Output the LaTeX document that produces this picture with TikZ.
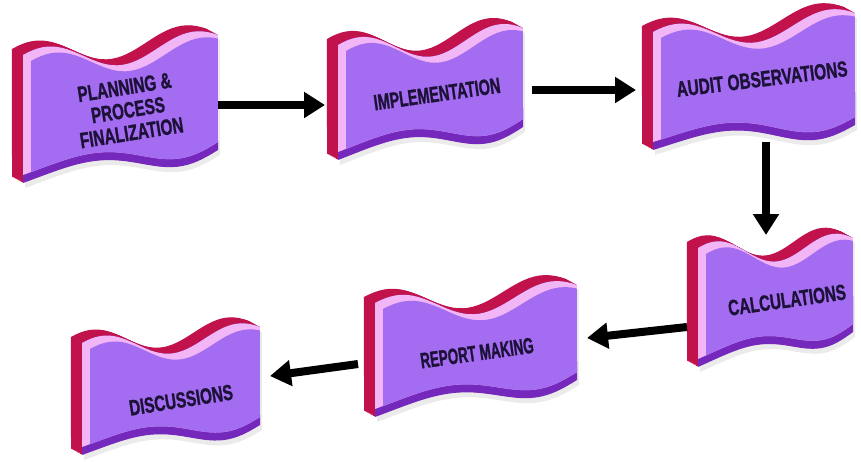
\documentclass[tikz,border=0pt]{standalone}
\usepackage{fontspec}
\setmainfont{Liberation Sans}
\newfontfamily\lblfont{Liberation Sans}[BoldFeatures={FakeBold=1.5}]
\usetikzlibrary{arrows.meta}
\definecolor{facepurple}{HTML}{A46CF0}
\definecolor{bevelpink}{HTML}{F2B6F6}
\definecolor{bottompurple}{HTML}{7428BC}
\definecolor{sidered}{HTML}{C2124C}
\definecolor{textnavy}{HTML}{1C1238}
\tikzset{
  lbl/.style={text=textnavy, font=\lblfont\fontsize{22}{23}\selectfont\bfseries, align=center, inner sep=0pt},
  flow/.style={line width=8pt, -{Triangle[length=21pt,width=25pt]}, black},
}
% #1 x0, #2 y0, #3 W, #4 Hl, #5 Hr, #6 s, #7 A, #8 B
\newcommand\wavyflag[8]{%
  \def\FP{plot[domain=0:1,samples=40,variable=\t] ({#1+\t*#3},{#2-#6*\t+#7*(0.546-cos(deg(2*pi*(\t-0.12)/0.76)))}) -- plot[domain=1:0,samples=40,variable=\t] ({#1+\t*#3},{#2+#4-(#6+#4-#5)*\t-#8*sin(360*\t*(0.6+0.4*\t))}) -- cycle}%
  \fill[black, opacity=0.08, shift={(2,5)}] \FP;
  \foreach \i in {1,...,12}{\fill[sidered, shift={({-0.92*\i},{-0.5*\i})}] \FP;}
  \fill[bottompurple] \FP;
  \begin{scope}
    \clip \FP;
    \fill[bevelpink, shift={(0,-8)}] \FP;
    \clip[shift={(0,-8)}] \FP;
    \fill[facepurple, shift={(8,6)}] \FP;
  \end{scope}
}
\begin{document}
\begin{tikzpicture}[x=1pt,y=-1pt]
\useasboundingbox (0,0) rectangle (861,461);
\fill[white] (0,0) rectangle (861,461);

\wavyflag{23}{55}{195}{128}{115}{20}{13}{10}
\wavyflag{338}{45}{185}{115}{99}{17}{13}{10}
\wavyflag{653}{32}{202}{118}{112}{19}{13}{10}
\wavyflag{698}{248}{155}{119}{94}{10}{12}{9}
\wavyflag{375}{303}{202}{114}{95}{18}{13}{10}
\wavyflag{82}{343}{178}{112}{98}{16}{12}{9}

\node[lbl, rotate=9, xscale=0.69] (n1) at (128,110) {PLANNING \&\\PROCESS\\FINALIZATION};
\node[lbl, rotate=8, xscale=0.655] (n2) at (437,94) {IMPLEMENTATION};
\node[lbl, rotate=7, xscale=0.70] (n3) at (762,79) {AUDIT OBSERVATIONS};
\node[lbl, rotate=8, xscale=0.69] (n4) at (787,300) {CALCULATIONS};
\node[lbl, rotate=8, xscale=0.61] (n5) at (477,353) {REPORT MAKING};
\node[lbl, rotate=9, xscale=0.69] (n6) at (181,400) {DISCUSSIONS};

\coordinate (o1) at (218,105);
\coordinate (i2) at (325,105);
\coordinate (o2) at (532,90);
\coordinate (i3) at (636,90);
\coordinate (o3) at (766,142);
\coordinate (i4) at (766,235);
\coordinate (o4) at (687,327);
\coordinate (i5) at (587,338);
\coordinate (o5) at (358,364);
\coordinate (i6) at (270,376);

\draw[flow] (o1) -- (i2);
\draw[flow] (o2) -- (i3);
\draw[flow] (o3) -- (i4);
\draw[flow] (o4) -- (i5);
\draw[flow] (o5) -- (i6);
\end{tikzpicture}
\end{document}
